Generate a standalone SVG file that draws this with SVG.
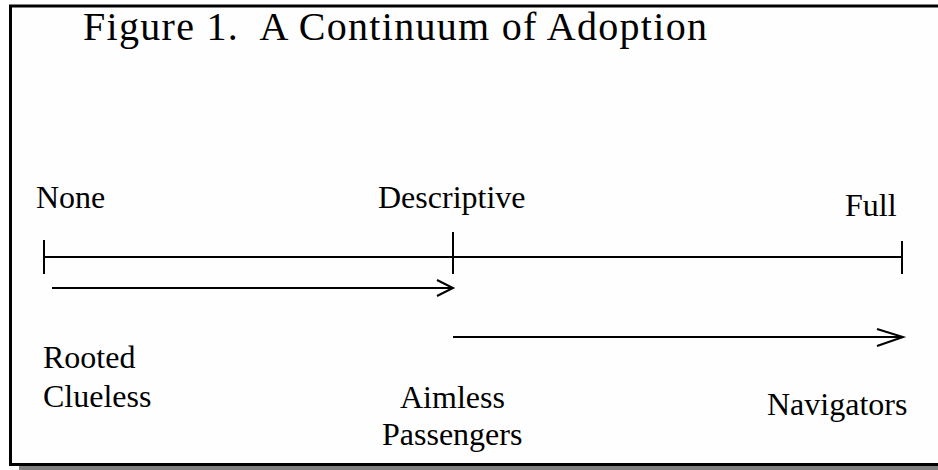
<svg xmlns="http://www.w3.org/2000/svg" width="938" height="470" viewBox="0 0 938 470">
<style>
.lbl{font-family:"Liberation Serif","Times New Roman",serif;font-size:32px;fill:#000}
.ttl{font-family:"Liberation Serif","Times New Roman",serif;font-size:40px;fill:#000;white-space:pre}
.ln{stroke:#000;stroke-width:2;fill:none}
</style>
<rect x="0" y="0" width="938" height="470" fill="#fff"/>
<rect x="19" y="466" width="930" height="6" fill="#808080"/>
<rect x="10.5" y="6" width="940" height="458.5" fill="#fefefe" stroke="#000" stroke-width="3"/>
<g id="title"><text class="ttl" x="83" y="40" textLength="624" lengthAdjust="spacing" xml:space="preserve">Figure 1.  A Continuum of Adoption</text></g>
<g id="axis">
<line class="ln" x1="44" y1="257" x2="902" y2="257"/>
<line class="ln" x1="44" y1="240" x2="44" y2="274"/>
<line class="ln" x1="453" y1="232" x2="453" y2="274"/>
<line class="ln" x1="902" y1="241" x2="902" y2="274"/>
</g>
<g id="connectors">
<line class="ln" x1="52" y1="288" x2="452" y2="288"/>
<polyline class="ln" points="437,280 453,288 437,296"/>
<line class="ln" x1="453" y1="337" x2="902" y2="337"/>
<polyline class="ln" points="877,329 903,337 877,346"/>
</g>
<g id="none"><text class="lbl" x="36" y="208">None</text></g>
<g id="descriptive"><text class="lbl" x="378" y="208">Descriptive</text></g>
<g id="full"><text class="lbl" x="845" y="216">Full</text></g>
<g id="rooted-clueless"><text class="lbl" x="43" y="368">Rooted</text><text class="lbl" x="43" y="407">Clueless</text></g>
<g id="aimless-passengers"><text class="lbl" x="400" y="408">Aimless</text><text class="lbl" x="382" y="445">Passengers</text></g>
<g id="navigators"><text class="lbl" x="767" y="415">Navigators</text></g>
</svg>
